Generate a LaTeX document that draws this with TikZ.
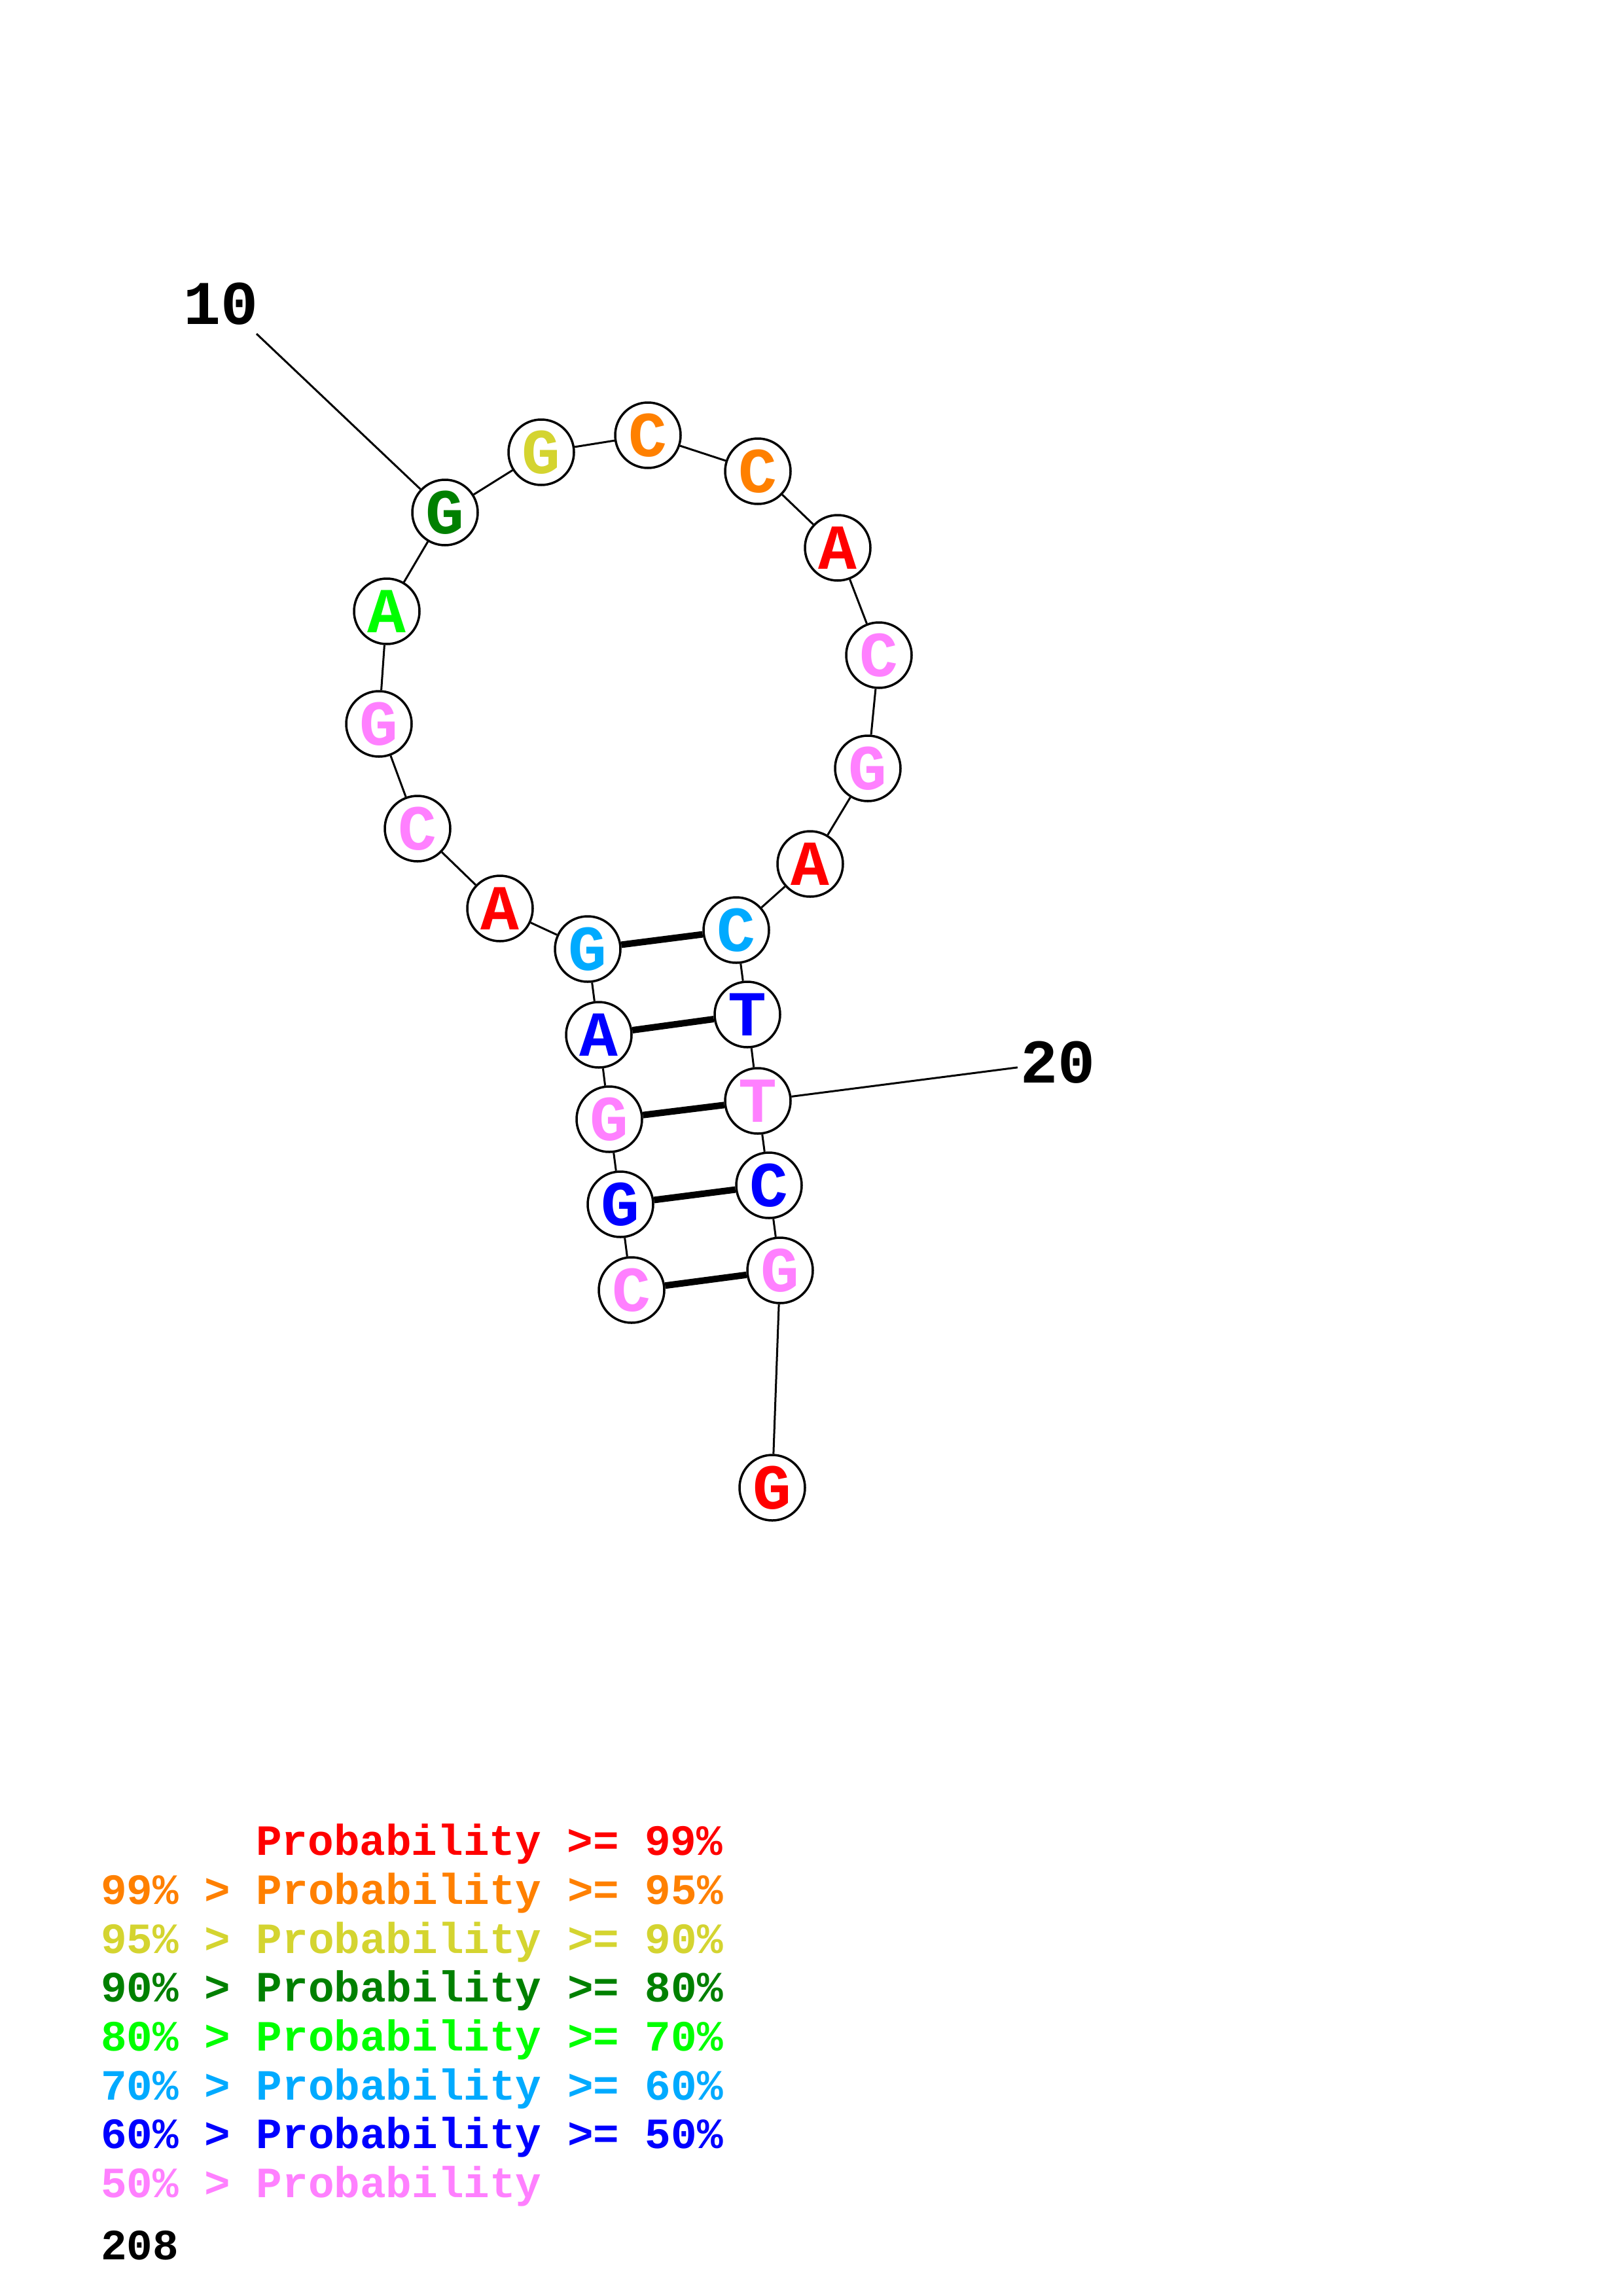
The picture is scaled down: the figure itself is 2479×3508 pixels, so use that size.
\documentclass[tikz,border=0pt]{standalone}
\usepackage{fontspec}
\newfontfamily\cour[WordSpace={1,0,0}]{Liberation Mono}
\definecolor{cRed}{RGB}{255,0,0}
\definecolor{cOrange}{RGB}{255,128,0}
\definecolor{cYellow}{RGB}{212,212,48}
\definecolor{cDkGreen}{RGB}{0,128,0}
\definecolor{cGreen}{RGB}{0,255,0}
\definecolor{cLtBlue}{RGB}{0,170,255}
\definecolor{cBlue}{RGB}{0,0,255}
\definecolor{cPink}{RGB}{255,128,255}
\tikzset{
  base/.style={circle,draw=black,line width=3.5pt,fill=white,minimum size=100pt,inner sep=0pt,font=\cour\bfseries\fontsize{98}{98}\selectfont},
  bb/.style={line width=3pt},
  pr/.style={line width=10pt},
  numlab/.style={inner sep=4pt,font=\cour\bfseries\fontsize{95}{95}\selectfont},
  leg/.style={anchor=base west,inner sep=0pt,font=\cour\bfseries\fontsize{66}{66}\selectfont}
}
\begin{document}
\begin{tikzpicture}[x=1pt,y=-1pt]
\useasboundingbox[fill=white] (0,0) rectangle (2479,3508);
% nodes
\node[base,text=cPink]    (n1)  at (965,1971) {C};
\node[base,text=cBlue]    (n2)  at (948,1840) {G};
\node[base,text=cPink]    (n3)  at (931,1710) {G};
\node[base,text=cBlue]    (n4)  at (915,1581) {A};
\node[base,text=cLtBlue]  (n5)  at (898,1450) {G};
\node[base,text=cRed]     (n6)  at (764,1388) {A};
\node[base,text=cPink]    (n7)  at (638,1266) {C};
\node[base,text=cPink]    (n8)  at (579,1106) {G};
\node[base,text=cGreen]   (n9)  at (591,934)  {A};
\node[base,text=cDkGreen] (n10) at (680,783)  {G};
\node[base,text=cYellow]  (n11) at (827,691)  {G};
\node[base,text=cOrange]  (n12) at (990,665)  {C};
\node[base,text=cOrange]  (n13) at (1158,720) {C};
\node[base,text=cRed]     (n14) at (1280,837) {A};
\node[base,text=cPink]    (n15) at (1343,1001) {C};
\node[base,text=cPink]    (n16) at (1326,1174) {G};
\node[base,text=cRed]     (n17) at (1238,1320) {A};
\node[base,text=cLtBlue]  (n18) at (1125,1421) {C};
\node[base,text=cBlue]    (n19) at (1142,1550) {T};
\node[base,text=cPink]    (n20) at (1158,1682) {T};
\node[base,text=cBlue]    (n21) at (1175,1811) {C};
\node[base,text=cPink]    (n22) at (1192,1941) {G};
\node[base,text=cRed]     (n23) at (1180,2273) {G};
% backbone
\foreach \a/\b in {1/2,2/3,3/4,4/5,5/6,6/7,7/8,8/9,9/10,10/11,11/12,12/13,13/14,14/15,15/16,16/17,17/18,18/19,19/20,20/21,21/22,22/23}
  \draw[bb] (n\a) -- (n\b);
% pairs
\foreach \a/\b in {1/22,2/21,3/20,4/19,5/18}
  \draw[pr] (n\a) -- (n\b);
% number labels
\node[numlab] (l10) at (338,464) {10};
\node[numlab] (l20) at (1616,1623) {20};
\coordinate (c10) at (392,510);
\draw[bb] (c10) -- (n10);
\draw[bb] (n20) -- (l20);
% legend
\node[leg,text=cRed]     (r1) at (391,2834) {Probability >= 99\%};
\node[leg,text=cOrange]  (r2) at (154,2909) {99\% > Probability >= 95\%};
\node[leg,text=cYellow]  (r3) at (154,2984) {95\% > Probability >= 90\%};
\node[leg,text=cDkGreen] (r4) at (154,3058) {90\% > Probability >= 80\%};
\node[leg,text=cGreen]   (r5) at (154,3133) {80\% > Probability >= 70\%};
\node[leg,text=cLtBlue]  (r6) at (154,3208) {70\% > Probability >= 60\%};
\node[leg,text=cBlue]    (r7) at (154,3282) {60\% > Probability >= 50\%};
\node[leg,text=cPink]    (r8) at (154,3357) {50\% > Probability};
\node[leg,text=black]    (r9) at (154,3452) {208};
\end{tikzpicture}
\end{document}
